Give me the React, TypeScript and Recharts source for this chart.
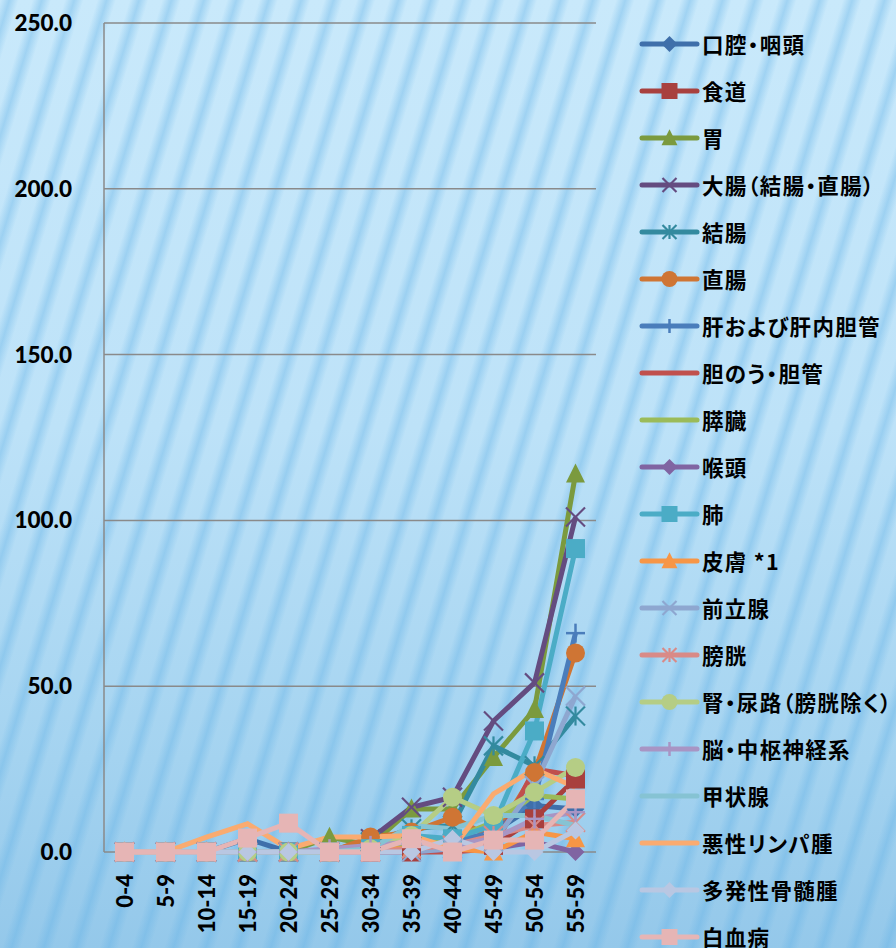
import React from 'react';
import { LineChart, Line, XAxis, YAxis, CartesianGrid, Legend } from 'recharts';

const ages = ['0-4', '5-9', '10-14', '15-19', '20-24', '25-29', '30-34', '35-39', '40-44', '45-49', '50-54', '55-59'];
const yTicks = [0, 50, 100, 150, 200, 250];

const seriesNames = [
  '口腔・咽頭', '食道', '胃', '大腸（結腸・直腸）', '結腸', '直腸', '肝および肝内胆管', '胆のう・胆管', '膵臓', '喉頭',
  '肺', '皮膚 *1', '前立腺', '膀胱', '腎・尿路（膀胱除く）', '脳・中枢神経系', '甲状腺', '悪性リンパ腫', '多発性骨髄腫', '白血病',
];

const oral = [0, 0, 0, 4, 0, 0, 1, 2, 3, 6, 14, 13];
const esophagus = [0, 0, 0, 0, 0, 0, 0, 0, 1, 2, 10, 22];
const stomach = [0, 0, 0, 0, 0, 4.5, 2, 13, 13, 28.5, 43, 114];
const colorectum = [0, 0, 0, 0, 0, 0, 4, 13.5, 16.5, 39.5, 51, 101];
const colon = [0, 0, 0, 0, 0, 0, 3, 7, 8, 32, 26, 41];
const rectum = [0, 0, 0, 0, 0, 0, 4.5, 6, 10.5, 4, 24, 60];
const liver = [0, 0, 0, 0, 0, 0, 1, 2, 3, 6, 16, 66];
const gallbladder = [0, 0, 0, 0, 0, 0, 0, 0, 0, 1, 25, 23];
const pancreas = [0, 0, 0, 0, 0, 0, 0, 2, 4, 9, 17, 16];
const larynx = [0, 0, 0, 0, 0, 0, 0, 0, 1, 1, 3, 0];
const lung = [0, 0, 0, 0, 0, 0, 1, 5, 4, 8, 36.5, 91.5];
const skin = [0, 0, 0, 0, 0, 0, 1, 1, 1, 0, 6, 4];
const prostate = [0, 0, 0, 0, 0, 0, 0, 0, 1, 3, 20, 47];
const bladder = [0, 0, 0, 0, 0, 0, 0, 1, 2, 5, 8, 9];
const kidney = [0, 0, 0, 0, 0, 0, 1, 5, 16.5, 11, 18, 25.5];
const brain = [0, 0, 0, 0, 0, 1, 2, 3, 2, 4, 10, 12];
const thyroid = [0, 0, 0, 0, 0, 0, 1, 8, 7, 11, 11, 8];
const lymphoma = [0, 0, 4.5, 8.5, 1, 4.5, 4.5, 5, 1, 17.5, 25, 19.5];
const myeloma = [0, 0, 0, 0, 0, 0, 0, 0, 4, 0, 0, 6.5];
const leukemia = [0, 0, 0, 4.2, 8.7, 0, 0, 4, 0, 3.6, 3.6, 16];

const seriesValues = [
  oral, esophagus, stomach, colorectum, colon, rectum, liver, gallbladder, pancreas, larynx,
  lung, skin, prostate, bladder, kidney, brain, thyroid, lymphoma, myeloma, leukemia,
];

const seriesColors = [
  '#3F6FAA', '#A8403E', '#7B9A3E', '#644C80', '#338A9F', '#CF7534', '#4A7DBB', '#C0504D', '#9BBB59', '#8064A2',
  '#4BACC6', '#F79646', '#8EA7D0', '#D98A87', '#B5CD85', '#A895C4', '#86C3D3', '#FAAB70', '#B9C7E2', '#E6B5B5',
];

const seriesMarkers = [
  'diamond', 'square', 'triangle', 'x', 'star', 'circle', 'plus', 'none', 'none', 'diamond',
  'square', 'triangle', 'x', 'star', 'circle', 'plus', 'none', 'none', 'diamond', 'square',
];

const data = ages.map((age, i) => {
  const row: any = { age };
  seriesValues.forEach((vals, k) => {
    row['s' + k] = vals[i];
  });
  return row;
});

function markerShape(shape: string, cx: number, cy: number, color: string, s: number, key?: string) {
  const h = s / 2;
  switch (shape) {
    case 'diamond':
      return <polygon key={key} points={`${cx},${cy - h} ${cx + h},${cy} ${cx},${cy + h} ${cx - h},${cy}`} fill={color} />;
    case 'square':
      return <rect key={key} x={cx - h} y={cy - h} width={s} height={s} fill={color} />;
    case 'triangle':
      return <polygon key={key} points={`${cx},${cy - s * 0.55} ${cx + h},${cy + s * 0.45} ${cx - h},${cy + s * 0.45}`} fill={color} />;
    case 'circle':
      return <circle key={key} cx={cx} cy={cy} r={h} fill={color} />;
    case 'x':
      return (
        <g key={key} stroke={color} strokeWidth={2.2}>
          <line x1={cx - h} y1={cy - h} x2={cx + h} y2={cy + h} />
          <line x1={cx - h} y1={cy + h} x2={cx + h} y2={cy - h} />
        </g>
      );
    case 'star':
      return (
        <g key={key} stroke={color} strokeWidth={2.2}>
          <line x1={cx - h} y1={cy - h} x2={cx + h} y2={cy + h} />
          <line x1={cx - h} y1={cy + h} x2={cx + h} y2={cy - h} />
          <line x1={cx} y1={cy - h} x2={cx} y2={cy + h} />
        </g>
      );
    case 'plus':
      return (
        <g key={key} stroke={color} strokeWidth={2.5}>
          <line x1={cx - h} y1={cy} x2={cx + h} y2={cy} />
          <line x1={cx} y1={cy - h} x2={cx} y2={cy + h} />
        </g>
      );
    default:
      return <g key={key} />;
  }
}

const chartMarkerSize = (shape: string) => (shape === 'diamond' ? 18 : 19);
const legendMarkerSize = (shape: string) => (shape === 'x' || shape === 'star' || shape === 'plus' ? 14 : 16);

const AgeTick = (props: any) => {
  const { x, y, payload } = props;
  const ay = y + 14;
  return (
    <text
      x={x}
      y={ay}
      transform={`rotate(-90, ${x}, ${ay})`}
      textAnchor="end"
      dominantBaseline="central"
      fontFamily="Lato"
      fontWeight={900}
      fontSize={22}
      fill="#000"
    >
      {payload.value}
    </text>
  );
};

const renderLegend = () => (
  <div style={{ display: 'flex', flexDirection: 'column' }}>
    {seriesNames.map((name, k) => (
      <div key={name} style={{ height: 47, display: 'flex', alignItems: 'center' }}>
        <svg width={66} height={24} style={{ display: 'block', flex: 'none' }}>
          <line x1={6} y1={12} x2={61} y2={12} stroke={seriesColors[k]} strokeWidth={5} strokeLinecap="round" />
          {markerShape(seriesMarkers[k], 33.5, 12, seriesColors[k], legendMarkerSize(seriesMarkers[k]))}
        </svg>
        <span
          style={{
            fontFamily: '"Noto Sans CJK JP", sans-serif',
            fontWeight: 700,
            fontSize: 21.5,
            letterSpacing: 1.3,
            fontFeatureSettings: '"palt"',
            color: '#000',
            whiteSpace: 'nowrap',
            lineHeight: 1,
          }}
        >
          {name}
        </span>
      </div>
    ))}
  </div>
);

export default function App() {
  return (
    <div
      style={{
        position: 'absolute',
        left: 0,
        top: 0,
        width: 896,
        height: 948,
        overflow: 'hidden',
        background:
          'repeating-linear-gradient(107deg, rgba(100,178,230,0) 0px, rgba(100,178,230,0.4) 9px, rgba(100,178,230,0) 18px, rgba(100,178,230,0) 31px), linear-gradient(180deg, #c9e9fb 0%, #bde2f8 45%, #a4d3f0 80%, #94c8ea 100%)',
      }}
    >
      <LineChart width={896} height={948} data={data} margin={{ top: 23, right: 300, bottom: 0, left: 0 }}>
        <CartesianGrid vertical={false} stroke="#8a8a8a" strokeWidth={1.5} />
        <XAxis
          dataKey="age"
          height={96}
          axisLine={false}
          tickLine={false}
          interval={0}
          padding={{ left: 20.5, right: 20.5 }}
          tick={<AgeTick />}
        />
        <YAxis
          width={104}
          domain={[0, 250]}
          ticks={yTicks}
          interval={0}
          tickFormatter={(v: number) => v.toFixed(1)}
          axisLine={{ stroke: '#8a8a8a', strokeWidth: 1.5 }}
          tickLine={false}
          tickSize={6}
          tickMargin={26}
          tick={{ fontFamily: 'Lato', fontWeight: 900, fontSize: 22.5, fill: '#000' }}
        />
        <Legend
          layout="vertical"
          align="center"
          verticalAlign="middle"
          content={renderLegend}
          wrapperStyle={{ left: 636, top: 20, width: 260, height: 960 }}
        />
        {seriesNames.map((name, k) => (
          <Line
            key={name}
            type="linear"
            dataKey={'s' + k}
            name={name}
            stroke={seriesColors[k]}
            strokeWidth={5}
            isAnimationActive={false}
            activeDot={false}
            dot={(p: any) =>
              markerShape(seriesMarkers[k], p.cx, p.cy, seriesColors[k], chartMarkerSize(seriesMarkers[k]), `${k}-${p.index}`)
            }
          />
        ))}
      </LineChart>
    </div>
  );
}
